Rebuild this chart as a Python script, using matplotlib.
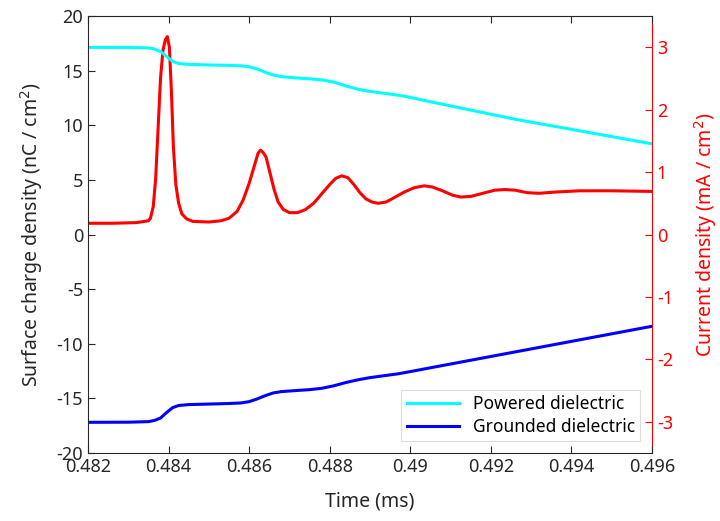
import matplotlib
matplotlib.use("Agg")
import matplotlib.pyplot as plt

plt.rcParams['font.family'] = ['Noto Sans', 'DejaVu Sans']
plt.rcParams['axes.unicode_minus'] = False

# current density (mA/cm2) vs time (ms)
t_cur = [0.4820, 0.4826, 0.4832, 0.4835, 0.48355, 0.48362, 0.48368, 0.48374,
         0.48380, 0.48386, 0.48392, 0.48397, 0.48402, 0.48407, 0.48412, 0.48418,
         0.48425, 0.48433, 0.48445, 0.48460, 0.4850, 0.4853, 0.4855, 0.48570,
         0.48585, 0.48600, 0.48612, 0.48622, 0.48628, 0.48634, 0.48642, 0.48652,
         0.48662, 0.48672, 0.48685, 0.48700, 0.48720, 0.48740, 0.48760, 0.48780,
         0.48800, 0.48815, 0.48830, 0.48845, 0.48860, 0.48875, 0.48890, 0.48905,
         0.48920, 0.48940, 0.48960, 0.48985, 0.49010, 0.49035, 0.49055, 0.49080,
         0.49105, 0.49125, 0.49150, 0.49180, 0.49210, 0.49235, 0.49260, 0.49290,
         0.49320, 0.49360, 0.49420, 0.49500, 0.49600]
current = [0.18, 0.18, 0.19, 0.22, 0.26, 0.45, 0.90, 1.70,
           2.50, 2.95, 3.12, 3.17, 3.00, 2.30, 1.40, 0.80,
           0.50, 0.33, 0.25, 0.21, 0.20, 0.22, 0.26, 0.37,
           0.55, 0.82, 1.08, 1.30, 1.35, 1.32, 1.24, 0.98,
           0.72, 0.52, 0.40, 0.35, 0.35, 0.40, 0.50, 0.65,
           0.80, 0.90, 0.94, 0.91, 0.80, 0.67, 0.57, 0.52,
           0.50, 0.52, 0.59, 0.68, 0.75, 0.78, 0.76, 0.70,
           0.63, 0.60, 0.61, 0.66, 0.71, 0.72, 0.71, 0.67,
           0.66, 0.68, 0.70, 0.70, 0.69]

# surface charge density (nC/cm2)
t_pow = [0.4820, 0.4830, 0.4835, 0.48365, 0.48380, 0.48395, 0.48410, 0.48425,
         0.4845, 0.4850, 0.4855, 0.4858, 0.4860, 0.4862, 0.4864, 0.4866,
         0.4868, 0.4871, 0.4875, 0.4878, 0.4881, 0.4884, 0.4887, 0.4890,
         0.4893, 0.4897, 0.4900, 0.4905, 0.4926, 0.4960]
powered = [17.13, 17.12, 17.08, 16.98, 16.75, 16.3, 15.85, 15.65,
           15.57, 15.52, 15.48, 15.44, 15.35, 15.15, 14.85, 14.6,
           14.45, 14.35, 14.25, 14.15, 13.95, 13.6, 13.3, 13.1,
           12.95, 12.75, 12.55, 12.15, 10.55, 8.3]

t_gnd = [0.4820, 0.4830, 0.4835, 0.48365, 0.48380, 0.48395, 0.48410, 0.48425,
         0.4845, 0.4850, 0.4855, 0.4858, 0.4860, 0.4862, 0.4864, 0.4866,
         0.4868, 0.4871, 0.4875, 0.4878, 0.4881, 0.4884, 0.4887, 0.4890,
         0.4893, 0.4897, 0.4900, 0.4905, 0.4926, 0.4960]
grounded = [-17.19, -17.18, -17.13, -17.02, -16.8, -16.3, -15.85, -15.65,
            -15.57, -15.52, -15.47, -15.42, -15.3, -15.05, -14.75, -14.5,
            -14.38, -14.3, -14.2, -14.08, -13.85, -13.55, -13.3, -13.1,
            -12.95, -12.75, -12.55, -12.2, -10.75, -8.4]

xticks = [0.482, 0.484, 0.486, 0.488, 0.49, 0.492, 0.494, 0.496]
xlabels = ['0.482', '0.484', '0.486', '0.488', '0.49', '0.492', '0.494', '0.496']

dark = '#262626'

fig = plt.figure(figsize=(7.2, 5.21), dpi=100)
ax = fig.add_axes([88/720, 68/521, 564/720, 437/521])
ax2 = ax.twinx()

ax2.plot(t_cur, current, color='red', lw=2.2)
l1, = ax.plot(t_pow, powered, color='cyan', lw=2.2, label='Powered dielectric')
l2, = ax.plot(t_gnd, grounded, color='blue', lw=2.2, label='Grounded dielectric')
ax.set_zorder(ax2.get_zorder() + 1)
ax.patch.set_visible(False)

ax.set_xlim(0.482, 0.496)
ax.set_ylim(-20, 20)
ax2.set_ylim(-3.5, 3.5)
ax.set_xticks(xticks)
ax.set_xticklabels(xlabels)
ax.set_yticks(range(-20, 21, 5))
ax2.set_yticks(range(-3, 4))

ax.tick_params(direction='in', length=5, labelsize=13, colors=dark, top=True)
ax.tick_params(axis='y', right=False)
ax2.tick_params(direction='in', length=5, labelsize=13, colors='red')
for s in ['left', 'bottom', 'top']:
    ax.spines[s].set_color(dark)
ax.spines['right'].set_visible(False)
ax2.spines['right'].set_color('red')
ax2.spines['left'].set_visible(False)
ax2.spines['top'].set_visible(False)
ax2.spines['bottom'].set_visible(False)

ax.set_xlabel('Time (ms)', fontsize=14, color=dark, labelpad=11)
ax.set_ylabel('Surface charge density (nC / cm$^2$)', fontsize=14, color=dark, labelpad=8)
ax2.set_ylabel('Current density (mA / cm$^2$)', fontsize=14, color='red', labelpad=14)

leg = ax.legend(handles=[l1, l2], loc='lower right', fontsize=12.5, frameon=True,
                fancybox=False, edgecolor='#dddddd', framealpha=1,
                handlelength=3.0, borderaxespad=0.7, borderpad=0.3, labelspacing=0.25)
leg.get_frame().set_linewidth(0.8)

fig.savefig('out.png', dpi=100)
